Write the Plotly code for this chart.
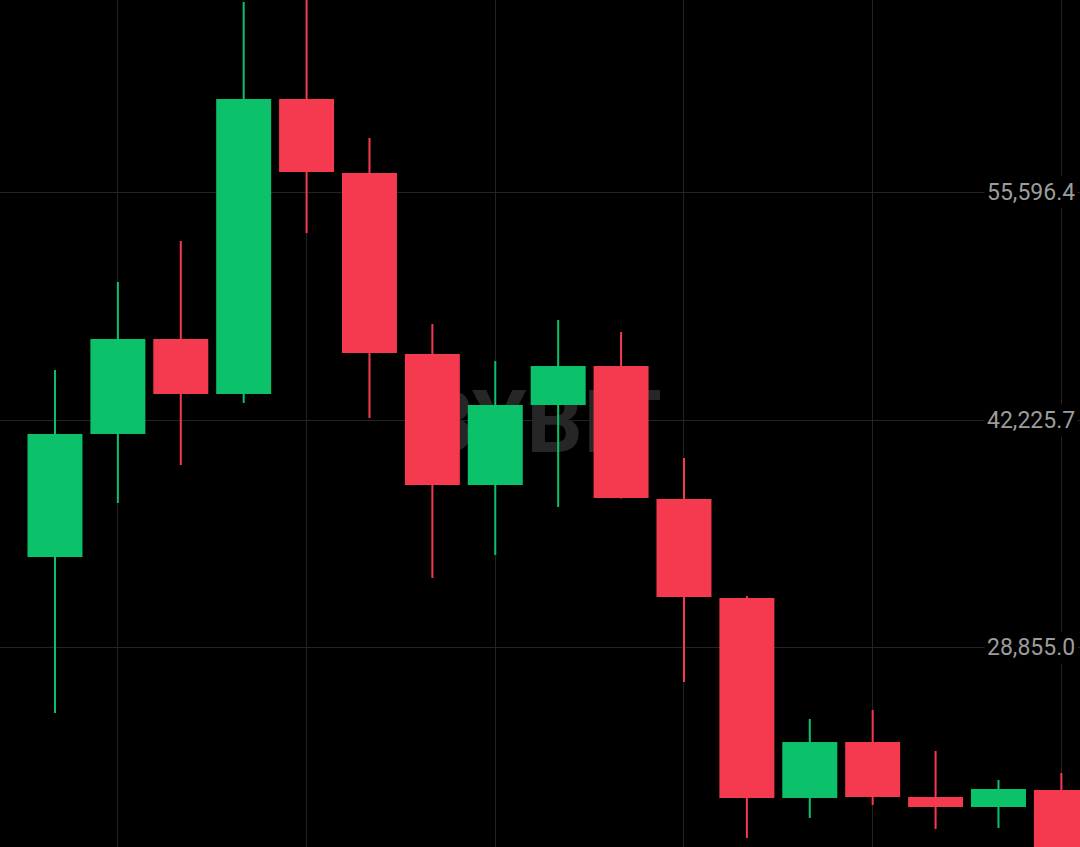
import plotly.graph_objects as go

# Candle data (index positions along x)
idx = list(range(17))
opens  = [34156, 41401, 46997, 43757, 61133, 56774, 46113, 38397, 43109, 45406, 37573, 31742, 19962, 23260, 20020, 19431, 20433]
highs  = [45171, 50354, 52769, 66846, 67847, 58836, 47880, 45701, 48116, 47409, 39988, 31859, 24615, 25145, 22730, 21022, 21434]
lows   = [24968, 37337, 39575, 43227, 53240, 42344, 32920, 34274, 37101, 37600, 26794, 17606, 18784, 19549, 18136, 18195, 15426]
closes = [41401, 46997, 43757, 61133, 56833, 46172, 38397, 43109, 45406, 37632, 31800, 19962, 23260, 20020, 19431, 20492, 16780]

ytick_vals = [28855.0, 42225.7, 55596.4]
xgrid_vals = [1, 4, 7, 10, 13, 16]
y_range = [17075.4, 66963.7]
x_range = [-0.874, 16.296]

GREEN = "#0bc26b"
RED = "#f53a50"
GRID = "#242424"

colors = [GREEN if c >= o else RED for o, c in zip(opens, closes)]
body_base = [min(o, c) for o, c in zip(opens, closes)]
body_len = [abs(c - o) for o, c in zip(opens, closes)]
wick_len = [h - l for h, l in zip(highs, lows)]

fig = go.Figure()
# wicks
fig.add_trace(go.Bar(
    x=idx, y=wick_len, base=lows, width=0.032,
    marker=dict(color=colors, line=dict(width=0)),
    hoverinfo="skip", showlegend=False,
))
# bodies
fig.add_trace(go.Bar(
    x=idx, y=body_len, base=body_base, width=0.874,
    marker=dict(color=colors, line=dict(width=0)),
    hoverinfo="skip", showlegend=False,
))

annotations = []
for v in ytick_vals:
    annotations.append(dict(
        x=1, xref="paper", xanchor="right", xshift=-2,
        y=v, yref="y", yanchor="middle",
        text=f"{v:,.1f}", showarrow=False,
        font=dict(family="Roboto", size=23, color="#9c9c9c"),
        bgcolor="#000000", borderpad=2,
    ))

fig.update_layout(
    width=1080, height=847,
    margin=dict(l=0, r=0, t=0, b=0),
    paper_bgcolor="#000000", plot_bgcolor="#000000",
    barmode="overlay",
    showlegend=False,
    annotations=annotations,
    shapes=[dict(
        type="rect", xref="paper", yref="paper",
        x0=0.36, x1=0.64, y0=0.44, y1=0.58,
        line=dict(width=0), fillcolor="rgba(0,0,0,0)",
        layer="between",
        label=dict(text="<b>BYBIT</b>", textposition="middle center",
                   font=dict(family="Roboto", size=88, color="#262626")),
    )],
    xaxis=dict(
        range=x_range, tickvals=xgrid_vals, showticklabels=False,
        showgrid=True, gridcolor=GRID, gridwidth=1, zeroline=False,
        showline=False, ticks="",
    ),
    yaxis=dict(
        range=y_range, tickvals=ytick_vals, showticklabels=False,
        showgrid=True, gridcolor=GRID, gridwidth=1, zeroline=False,
        showline=False, ticks="",
    ),
)

fig.write_html("out.html", config={"displayModeBar": False},
               post_script="document.body.style.margin='0';")
